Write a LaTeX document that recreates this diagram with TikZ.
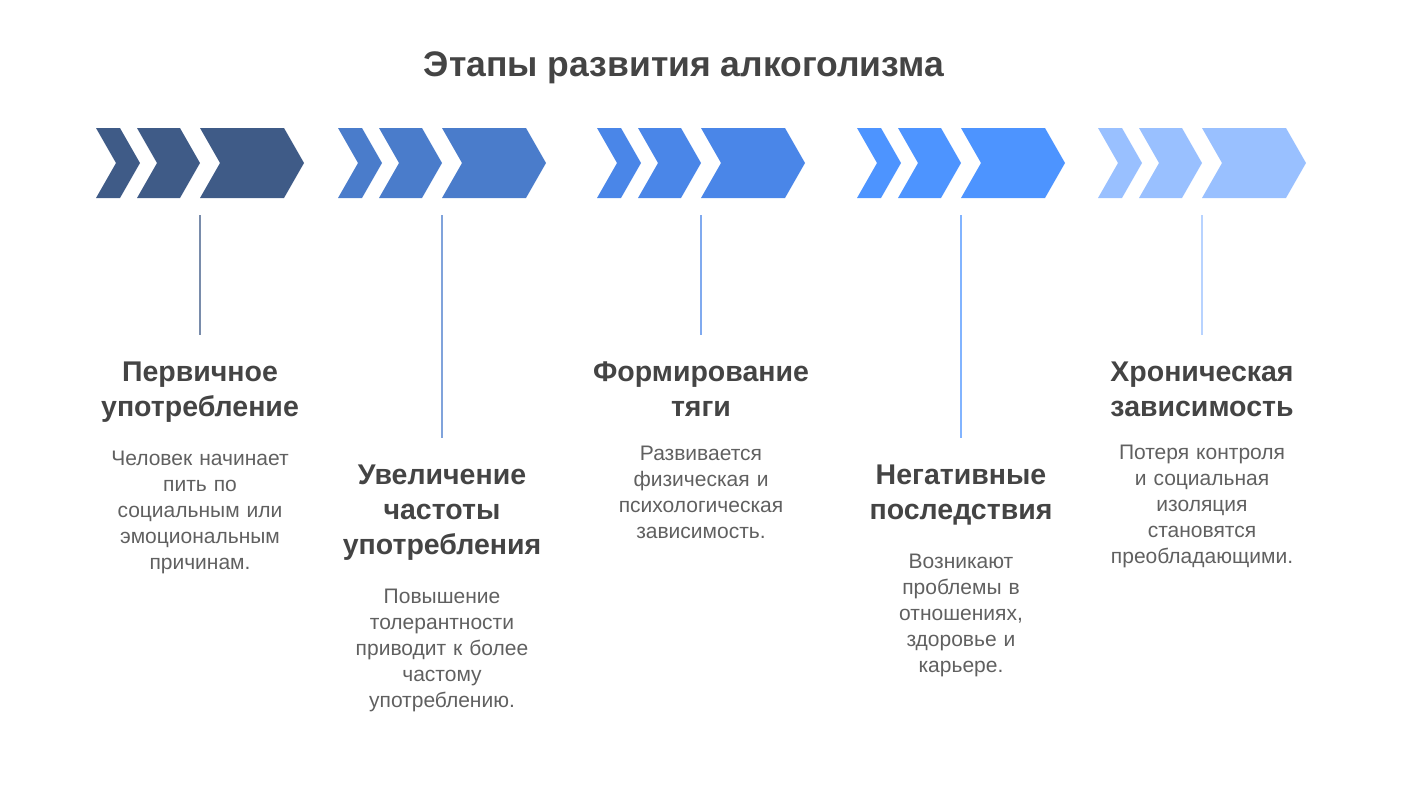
\documentclass[tikz,border=0pt]{standalone}
\usepackage{fontspec}
\setmainfont{Liberation Sans}
\usetikzlibrary{positioning}
\definecolor{cA}{HTML}{3F5B87}
\definecolor{cB}{HTML}{4A7CCB}
\definecolor{cC}{HTML}{4A86E8}
\definecolor{cD}{HTML}{4D94FF}
\definecolor{cE}{HTML}{99C0FF}
\definecolor{txt}{HTML}{444444}
\newcommand{\chev}[4]{% x0, width, color, name
  \fill[#3] (#1,128) -- ++(#2,0) -- ++(20,35) -- ++(-20,35) -- (#1,198) -- ++(20,-35) -- cycle;}
\begin{document}
\begin{tikzpicture}[x=1pt,y=-1pt,
  head/.style={font=\fontsize{28.5}{35}\selectfont\bfseries,text=txt,align=center,anchor=north},
  body/.style={font=\fontsize{21}{26}\selectfont,text=txt!85,align=center,anchor=north,text width=240pt},
  stem/.style={line width=1.6pt}]
  \useasboundingbox (0,0) rectangle (1410,793);
  \node[font=\fontsize{35.5}{40}\selectfont\bfseries,text=txt] (title) at (684,68) {Этапы развития алкоголизма};
  \foreach \x/\c/\n in {96/cA/1,338/cB/2,597/cC/3,857/cD/4,1098/cE/5}{
    \chev{\x}{24}{\c}{a}
    \chev{\x+41}{43}{\c}{b}
    \chev{\x+104}{84}{\c}{c}
    \coordinate (top\n) at (\x+104,215);
  }
  \node[head] (h1) at (200,358) {Первичное\\употребление};
  \node[body,below=22pt of h1] (b1) {Человек начинает\\пить по\\социальным или\\эмоциональным\\причинам.};
  \node[head] (h2) at (442,461) {Увеличение\\частоты\\употребления};
  \node[body,below=22pt of h2] (b2) {Повышение\\толерантности\\приводит к более\\частому\\употреблению.};
  \node[head] (h3) at (701,358) {Формирование\\тяги};
  \node[body,below=23pt of h3] (b3) {Развивается\\физическая и\\психологическая\\зависимость.};
  \node[head] (h4) at (961,461) {Негативные\\последствия};
  \node[body,below=22pt of h4] (b4) {Возникают\\проблемы в\\отношениях,\\здоровье и\\карьере.};
  \node[head] (h5) at (1202,358) {Хроническая\\зависимость};
  \node[body,below=22pt of h5] (b5) {Потеря контроля\\и социальная\\изоляция\\становятся\\преобладающими.};
  \draw[stem,cA!70] (top1) -- ([yshift=23pt]h1.north);
  \draw[stem,cB!70] (top2) -- ([yshift=23pt]h2.north);
  \draw[stem,cC!70] (top3) -- ([yshift=23pt]h3.north);
  \draw[stem,cD!70] (top4) -- ([yshift=23pt]h4.north);
  \draw[stem,cE!70] (top5) -- ([yshift=23pt]h5.north);
\end{tikzpicture}
\end{document}
